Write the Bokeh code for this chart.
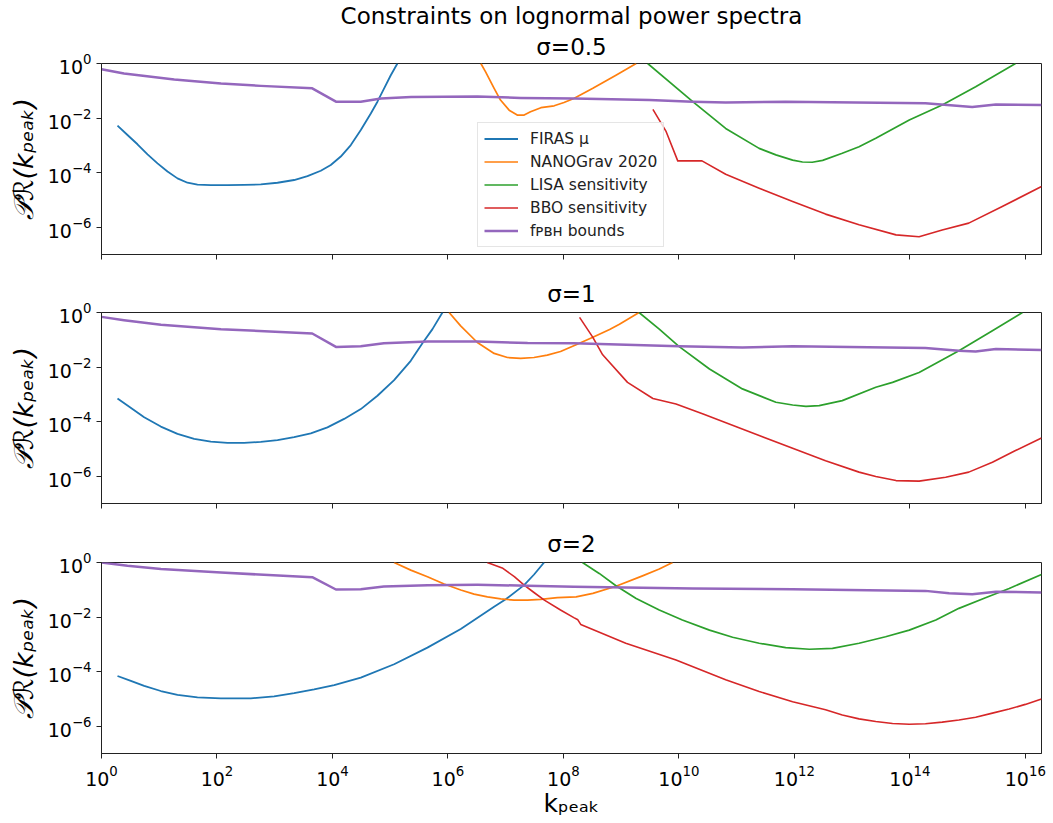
import numpy as np
from bokeh.plotting import figure
from bokeh.models import Legend, LegendItem, Title, FixedTicker, Range1d, CustomJSTickFormatter, Spacer
from bokeh.layouts import column, row
from bokeh.embed import file_html
from bokeh.resources import INLINE

# ---------- data (log10 k_peak, log10 P_R) ----------
# sigma = 0.5
firas_05_lk = [0.277, 0.450, 0.623, 0.797, 0.970, 1.143, 1.316, 1.489, 1.662, 1.893, 2.182, 2.470, 2.759, 3.048,
               3.336, 3.567, 3.798, 3.971, 4.144, 4.318, 4.491, 4.664, 4.779, 4.895, 5.010, 5.125]
firas_05_lp = [-2.28, -2.62, -2.96, -3.33, -3.66, -3.96, -4.21, -4.37, -4.44, -4.46, -4.46, -4.45, -4.43, -4.37,
               -4.27, -4.13, -3.93, -3.72, -3.41, -2.99, -2.44, -1.83, -1.40, -0.91, -0.43, 0.0]
nano_05_lk = [6.57, 6.65, 6.80, 6.91, 7.06, 7.20, 7.32, 7.43, 7.61, 7.84, 8.01, 8.18, 8.51, 8.91, 9.26]
nano_05_lp = [0.0, -0.30, -0.91, -1.34, -1.71, -1.89, -1.89, -1.77, -1.62, -1.55, -1.43, -1.28, -0.91, -0.43, 0.0]
lisa_05_lk = [9.46, 10.24, 10.81, 11.39, 11.68, 11.97, 12.14, 12.31, 12.49, 12.83, 13.12, 13.41, 13.99, 14.56, 15.14, 15.83]
lisa_05_lp = [0.0, -1.40, -2.38, -3.11, -3.35, -3.54, -3.61, -3.62, -3.55, -3.29, -3.05, -2.74, -2.07, -1.52, -0.85, 0.0]
bbo_05_lk = [9.55, 9.78, 9.98, 10.40, 10.81, 11.39, 11.97, 12.54, 13.12, 13.76, 14.16, 14.56, 15.02, 15.60, 16.28]
bbo_05_lp = [-1.68, -2.50, -3.57, -3.57, -4.06, -4.57, -5.06, -5.52, -5.91, -6.28, -6.35, -6.10, -5.85, -5.24, -4.51]
fpbh_05_lk = [0.0, 0.39, 1.26, 2.07, 2.76, 3.65, 4.06, 4.49, 4.84, 5.36, 6.51, 7.26, 8.18, 9.49, 10.24, 10.81, 11.85, 14.27, 15.08, 15.49, 16.28]
fpbh_05_lp = [-0.21, -0.37, -0.585, -0.73, -0.82, -0.91, -1.40, -1.40, -1.28, -1.23, -1.21, -1.26, -1.28, -1.34, -1.40, -1.43, -1.40, -1.46, -1.59, -1.50, -1.52]

# sigma = 1
firas_1_lk = [0.277, 0.450, 0.739, 1.027, 1.316, 1.605, 1.893, 2.182, 2.470, 2.759, 3.048, 3.336, 3.625, 3.913,
              4.202, 4.491, 4.779, 5.068, 5.356, 5.558, 5.732, 5.905]
firas_1_lp = [-3.15, -3.41, -3.84, -4.18, -4.45, -4.63, -4.73, -4.78, -4.78, -4.74, -4.68, -4.57, -4.43, -4.21,
              -3.90, -3.54, -3.05, -2.48, -1.77, -1.13, -0.61, 0.0]
nano_1_lk = [6.02, 6.22, 6.51, 6.80, 7.03, 7.26, 7.49, 7.72, 7.95, 8.22, 8.51, 8.80, 8.97, 9.31]
nano_1_lp = [0.0, -0.49, -1.10, -1.50, -1.65, -1.68, -1.65, -1.56, -1.43, -1.18, -0.91, -0.62, -0.43, 0.0]
lisa_1_lk = [9.31, 9.66, 10.00, 10.53, 11.10, 11.68, 11.97, 12.20, 12.43, 12.83, 13.41, 13.70, 14.16, 14.85, 15.43, 15.95]
lisa_1_lp = [0.0, -0.61, -1.24, -2.07, -2.80, -3.29, -3.39, -3.44, -3.41, -3.23, -2.74, -2.56, -2.20, -1.40, -0.67, 0.0]
bbo_1_lk = [8.28, 8.51, 8.68, 9.11, 9.55, 9.95, 10.42, 11.39, 12.54, 13.12, 13.41, 13.76, 14.16, 14.62, 15.02, 15.43, 15.83, 16.28]
bbo_1_lp = [-0.18, -0.91, -1.55, -2.56, -3.15, -3.35, -3.72, -4.51, -5.43, -5.85, -6.01, -6.16, -6.18, -6.04, -5.85, -5.49, -5.06, -4.60]
fpbh_1_lk = [0.0, 0.39, 1.03, 2.07, 3.65, 4.06, 4.49, 4.89, 5.65, 6.51, 7.38, 8.18, 10.00, 11.10, 11.97, 14.27, 14.85, 15.14, 15.49, 16.28]
fpbh_1_lp = [-0.16, -0.28, -0.45, -0.61, -0.77, -1.26, -1.24, -1.13, -1.06, -1.06, -1.12, -1.13, -1.24, -1.28, -1.24, -1.30, -1.40, -1.43, -1.34, -1.37]

# sigma = 2
firas_2_lk = [0.277, 0.508, 0.739, 1.027, 1.316, 1.662, 2.066, 2.586, 2.990, 3.336, 3.683, 4.030, 4.491, 5.068,
              5.645, 6.222, 6.799, 7.001, 7.319, 7.492, 7.665]
firas_2_lp = [-4.16, -4.34, -4.52, -4.71, -4.85, -4.94, -4.98, -4.98, -4.91, -4.79, -4.65, -4.49, -4.22, -3.73,
              -3.12, -2.44, -1.62, -1.35, -0.83, -0.44, 0.0]
nano_2_lk = [5.068, 5.356, 5.645, 5.934, 6.222, 6.453, 6.684, 6.915, 7.146, 7.377, 7.607, 7.896, 8.22, 8.51, 8.91, 9.37, 9.66, 9.89]
nano_2_lp = [0.0, -0.28, -0.52, -0.79, -1.01, -1.16, -1.26, -1.33, -1.38, -1.38, -1.35, -1.29, -1.26, -1.13, -0.87, -0.49, -0.24, 0.0]
lisa_2_lk = [8.33, 8.62, 8.91, 9.26, 9.66, 10.06, 10.53, 10.93, 11.39, 11.85, 12.26, 12.66, 13.12, 13.58, 13.99,
             14.45, 14.85, 15.31, 15.72, 16.28]
lisa_2_lp = [0.0, -0.40, -0.85, -1.32, -1.74, -2.11, -2.48, -2.74, -2.96, -3.12, -3.18, -3.15, -2.96, -2.72, -2.48,
             -2.11, -1.68, -1.29, -0.95, -0.44]
bbo_2_lk = [6.68, 6.94, 7.15, 7.32, 7.49, 7.67, 7.95, 8.18, 8.25, 8.30, 9.08, 9.95, 10.81, 11.39, 11.97, 12.54,
            12.83, 13.12, 13.41, 13.70, 13.99, 14.27, 14.56, 14.85, 15.14, 15.43, 15.72, 16.00, 16.28]
bbo_2_lp = [0.0, -0.20, -0.52, -0.83, -1.10, -1.38, -1.74, -2.02, -2.10, -2.27, -2.96, -3.57, -4.30, -4.73, -5.10, -5.40,
            -5.59, -5.73, -5.83, -5.90, -5.93, -5.91, -5.85, -5.77, -5.67, -5.52, -5.37, -5.20, -5.00]
fpbh_2_lk = [0.0, 0.45, 1.03, 2.07, 3.65, 4.06, 4.49, 4.89, 5.65, 6.51, 7.38, 8.18, 10.24, 11.97, 14.27, 14.68, 15.08, 15.49, 16.28]
fpbh_2_lp = [0.0, -0.12, -0.24, -0.37, -0.54, -0.99, -0.98, -0.88, -0.83, -0.82, -0.85, -0.89, -0.95, -0.98, -1.04, -1.13, -1.16, -1.07, -1.10]

series_names = ["FIRAS \u03bc", "NANOGrav 2020", "LISA sensitivity", "BBO sensitivity", "f\u1d18\u0299\u029c bounds"]
series_colors = ["#1f77b4", "#ff7f0e", "#2ca02c", "#d62728", "#9467bd"]
series_widths = [1.8, 1.7, 1.7, 1.6, 2.5]
panel_titles = ["\u03c3=0.5", "\u03c3=1", "\u03c3=2"]
main_title = "Constraints on lognormal power spectra"
x_ticks_exp = [0, 2, 4, 6, 8, 10, 12, 14, 16]
y_ticks_exp = [-6, -4, -2, 0]

panel_data = [
    [(firas_05_lk, firas_05_lp), (nano_05_lk, nano_05_lp), (lisa_05_lk, lisa_05_lp), (bbo_05_lk, bbo_05_lp), (fpbh_05_lk, fpbh_05_lp)],
    [(firas_1_lk, firas_1_lp), (nano_1_lk, nano_1_lp), (lisa_1_lk, lisa_1_lp), (bbo_1_lk, bbo_1_lp), (fpbh_1_lk, fpbh_1_lp)],
    [(firas_2_lk, firas_2_lp), (nano_2_lk, nano_2_lp), (lisa_2_lk, lisa_2_lp), (bbo_2_lk, bbo_2_lp), (fpbh_2_lk, fpbh_2_lp)],
]

FONT = "DejaVu Sans"
x_range = Range1d(1.0, 10 ** 16.28)

figs = []
for i, (title, data) in enumerate(zip(panel_titles, panel_data)):
    top = [61, 45, 46][i]
    bottom = [8, 8, 62][i]
    p = figure(x_axis_type="log", y_axis_type="log",
               x_range=x_range, y_range=Range1d(1e-7, 1.0),
               frame_width=940, frame_height=191,
               min_border_left=90, min_border_right=6,
               min_border_top=top, min_border_bottom=bottom,
               output_backend="svg", toolbar_location=None)
    p.title.visible = False
    p.add_layout(Title(text=title, align="center", text_font=FONT, text_color="black",
                       text_font_size="23px", text_font_style="normal",
                       standoff=[7, 11, 11][i], offset=0), "above")
    if i == 0:
        p.add_layout(Title(text=main_title, align="center", text_font=FONT, text_color="black",
                           text_font_size="23px", text_font_style="normal",
                           standoff=0), "above")
    renderers = []
    for (lk, lp), color, lw in zip(data, series_colors, series_widths):
        xs = np.power(10.0, np.array(lk))
        ys = np.power(10.0, np.array(lp))
        r = p.line(xs, ys, line_color=color, line_width=lw, line_join="round")
        renderers.append(r)

    p.xaxis.ticker = FixedTicker(ticks=[10.0 ** e for e in x_ticks_exp], minor_ticks=[])
    p.yaxis.ticker = FixedTicker(ticks=[10.0 ** e for e in y_ticks_exp], minor_ticks=[])
    for ax in (p.xaxis[0], p.yaxis[0]):
        ax.major_tick_out = 5
        ax.major_tick_in = 0
        ax.minor_tick_out = 0
        ax.minor_tick_in = 0
        ax.major_label_text_font = FONT
        ax.major_label_text_font_size = "19px"
        ax.major_label_text_color = "black"
        ax.axis_line_color = "#222222"
        ax.major_tick_line_color = "#222222"
    p.yaxis.axis_label = "\U0001D4AB\u211B(k\u209a\u2091\u2090\u2096)"
    p.yaxis.axis_label_text_font = FONT
    p.yaxis.axis_label_text_font_size = "27px"
    p.yaxis.axis_label_text_font_style = "italic"
    p.yaxis.axis_label_text_color = "black"
    p.yaxis.axis_label_standoff = 6
    if i < 2:
        p.xaxis.formatter = CustomJSTickFormatter(code="return ' '")
        p.xaxis.major_label_text_font_size = "4px"
        p.xaxis.major_label_standoff = 0
    else:
        p.xaxis.axis_label = "k\u209a\u2091\u2090\u2096"
        p.xaxis.axis_label_text_font = FONT
        p.xaxis.axis_label_text_font_size = "25px"
        p.xaxis.axis_label_text_font_style = "normal"
        p.xaxis.axis_label_text_color = "black"
        p.xaxis.axis_label_standoff = 0
        p.xaxis.major_label_standoff = 6
    p.grid.visible = False
    p.outline_line_color = "#222222"
    p.outline_line_width = 1
    p.background_fill_color = "white"
    p.border_fill_color = "white"

    if i == 0:
        legend = Legend(items=[LegendItem(label=n, renderers=[r]) for n, r in zip(series_names, renderers)],
                        location=(376, 7), orientation="vertical",
                        label_text_font=FONT, label_text_font_size="15.5px", label_text_color="#222222",
                        glyph_width=34, glyph_height=19, label_height=19,
                        label_standoff=12, spacing=4, padding=6, margin=0,
                        border_line_color="#cccccc", border_line_width=1,
                        background_fill_alpha=0.8)
        p.add_layout(legend)
    figs.append(p)

layout = row(Spacer(width=4), column(*figs, spacing=0), spacing=0)
open("out.html", "w").write(file_html(layout, INLINE, title="Constraints on lognormal power spectra"))
